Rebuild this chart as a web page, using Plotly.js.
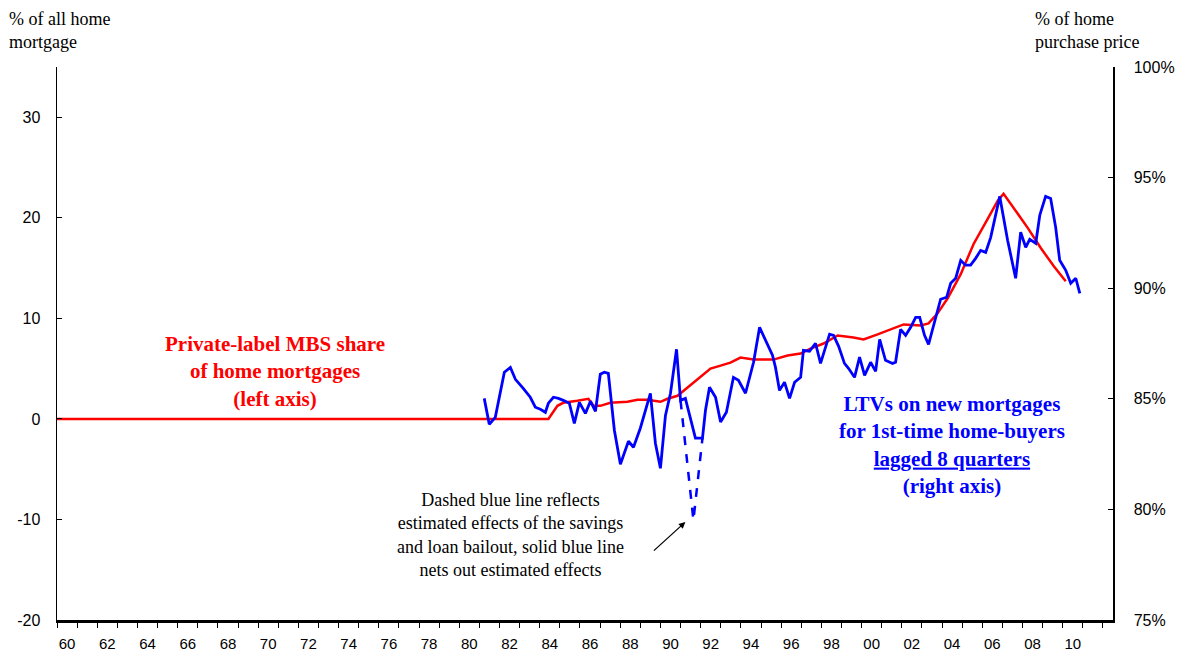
<!DOCTYPE html>
<html>
<head>
<meta charset="utf-8">
<script src="https://cdn.plot.ly/plotly-3.0.1.min.js"></script>
<style>html,body{margin:0;padding:0;background:#fff;}#chart{width:1179px;height:653px;}</style>
</head>
<body>
<div id="chart"></div>
<script>
// Private-label MBS share of home mortgages (% of all home mortgages, left axis)
const redYears = [1960, 1984.43, 1984.88, 1985.17, 1985.87, 1986.42, 1986.67, 1987.01, 1987.51, 1988.36, 1988.86, 1989.35, 1990.00, 1990.35, 1990.85, 1991.34, 1991.99, 1992.49, 1992.99, 1993.48, 1993.98, 1994.63, 1995.62, 1996.32, 1996.97, 1997.46, 1998.11, 1998.81, 1999.60, 2000.10, 2000.80, 2001.59, 2002.09, 2002.94, 2003.33, 2003.78, 2004.28, 2004.93, 2005.57, 2006.27, 2006.77, 2007.06, 2007.56, 2008.26, 2008.91, 2009.55, 2010.15];
const redShare = [0, 0, 1.3, 1.6, 1.8, 2.0, 1.3, 1.3, 1.6, 1.7, 1.9, 1.9, 1.7, 2.0, 2.3, 3.1, 4.1, 5.0, 5.3, 5.6, 6.1, 5.9, 5.9, 6.3, 6.5, 7.0, 7.5, 8.3, 8.1, 7.9, 8.4, 9.0, 9.4, 9.3, 9.5, 10.5, 12.0, 14.4, 17.4, 19.9, 21.7, 22.4, 21.0, 19.0, 17.0, 15.2, 13.7];

// LTVs on new mortgages for 1st-time home-buyers, lagged 8 quarters (% of purchase price, right axis)
const blueYears = [1981.24, 1981.49, 1981.79, 1982.24, 1982.54, 1982.79, 1983.18, 1983.53, 1983.78, 1984.03, 1984.28, 1984.43, 1984.68, 1984.93, 1985.17, 1985.47, 1985.72, 1985.97, 1986.27, 1986.52, 1986.77, 1987.01, 1987.21, 1987.41, 1987.71, 1988.01, 1988.41, 1988.66, 1989.00, 1989.50, 1989.75, 1990.00, 1990.25, 1990.50, 1990.80, 1991.00, 1991.24, 1991.49, 1991.74, 1992.09, 1992.24, 1992.44, 1992.74, 1992.99, 1993.28, 1993.63, 1993.88, 1994.23, 1994.63, 1994.93, 1995.22, 1995.57, 1995.72, 1995.92, 1996.17, 1996.42, 1996.67, 1996.97, 1997.11, 1997.41, 1997.71, 1997.96, 1998.41, 1998.61, 1998.86, 1999.15, 1999.35, 1999.65, 1999.90, 2000.15, 2000.45, 2000.70, 2000.90, 2001.19, 2001.54, 2001.69, 2001.94, 2002.19, 2002.44, 2002.69, 2002.89, 2003.13, 2003.33, 2003.58, 2003.93, 2004.23, 2004.43, 2004.68, 2004.93, 2005.17, 2005.42, 2005.67, 2005.92, 2006.17, 2006.42, 2006.87, 2007.26, 2007.66, 2007.91, 2008.16, 2008.36, 2008.66, 2008.86, 2009.15, 2009.40, 2009.65, 2009.85, 2010.15, 2010.40, 2010.65, 2010.85];
const blueLTV = [85.02, 83.85, 84.16, 86.20, 86.42, 85.88, 85.47, 85.07, 84.62, 84.53, 84.39, 84.80, 85.07, 85.02, 84.93, 84.80, 83.89, 84.84, 84.34, 84.89, 84.43, 86.11, 86.20, 86.15, 83.58, 82.04, 83.08, 82.81, 83.67, 85.25, 82.99, 81.86, 84.25, 85.25, 87.24, 84.93, 85.02, 84.16, 83.22, 83.22, 84.48, 85.52, 85.07, 83.95, 84.39, 85.97, 85.84, 85.25, 86.65, 88.23, 87.64, 86.97, 86.42, 85.38, 85.75, 85.02, 85.75, 85.97, 87.19, 87.15, 87.51, 86.60, 87.92, 87.87, 87.37, 86.60, 86.38, 85.97, 86.88, 86.06, 86.65, 86.24, 87.69, 86.74, 86.60, 86.65, 88.14, 87.87, 88.23, 88.68, 88.68, 87.87, 87.46, 88.32, 89.50, 89.59, 90.22, 90.45, 91.26, 91.04, 91.04, 91.35, 91.71, 91.62, 92.30, 94.15, 92.17, 90.45, 92.53, 91.85, 92.21, 92.03, 93.30, 94.15, 94.06, 92.75, 91.26, 90.81, 90.22, 90.45, 89.77];

// Dashed segment: including estimated effects of the savings and loan bailout
const dashYears = [1991.00, 1991.64, 1992.09];
const dashLTV = [84.93, 79.51, 83.22];

// Axis tick labels
const yearLabelVals = [];
const yearLabelText = [];
for (let y = 1960; y <= 2010; y += 2) { yearLabelVals.push(y + 0.5); yearLabelText.push(String(y % 100).padStart(2, '0')); }
const leftTicks = [-20, -10, 0, 10, 20, 30];
const leftTickText = ['-20', '-10', '0', '10', '20', '30'];
const rightTicks = [75, 80, 85, 90, 95, 100];
const rightTickText = ['75%', '80%', '85%', '90%', '95%', '100%'];

const serif = 'Liberation Serif, Times New Roman, serif';
const sans = 'Liberation Sans, Arial, sans-serif';

const traces = [
  {x: redYears, y: redShare, type: 'scatter', mode: 'lines', xaxis: 'x', yaxis: 'y',
   line: {color: 'rgb(255,0,0)', width: 2.5}, hoverinfo: 'skip'},
  {x: dashYears, y: dashLTV, type: 'scatter', mode: 'lines', xaxis: 'x', yaxis: 'y2',
   line: {color: 'rgb(0,0,255)', width: 2.5, dash: 'dash'}, hoverinfo: 'skip'},
  {x: blueYears, y: blueLTV, type: 'scatter', mode: 'lines', xaxis: 'x', yaxis: 'y2',
   line: {color: 'rgb(0,0,255)', width: 2.8}, hoverinfo: 'skip'}
];

const layout = {
  width: 1179, height: 653,
  margin: {l: 57, r: 66, t: 67, b: 33},
  paper_bgcolor: '#fff', plot_bgcolor: '#fff',
  showlegend: false,
  xaxis: {
    range: [1960, 2012.5], showgrid: false, zeroline: false,
    tickmode: 'array', tickvals: yearLabelVals, ticktext: yearLabelText,
    ticks: '', ticklabelstandoff: 8,
    tickfont: {family: sans, size: 15, color: '#000'},
    minor: {tickmode: 'linear', tick0: 1960, dtick: 1, ticks: 'outside', ticklen: 5, tickwidth: 1, tickcolor: '#000', showgrid: false},
    showline: true, linecolor: '#000', linewidth: 2.5, fixedrange: true
  },
  yaxis: {
    range: [-20, 35], tickmode: 'array', tickvals: leftTicks, ticktext: leftTickText, showgrid: false, zeroline: false,
    ticks: 'inside', ticklen: 5, tickcolor: '#000', showline: true, linecolor: '#000', linewidth: 1.5,
    tickfont: {family: sans, size: 16, color: '#000'}, ticklabelstandoff: 12, fixedrange: true
  },
  yaxis2: {
    overlaying: 'y', side: 'right', range: [75, 100], tickmode: 'array', tickvals: rightTicks, ticktext: rightTickText,
    showgrid: false, zeroline: false, ticks: 'inside', ticklen: 5, tickcolor: '#000',
    showline: true, linecolor: '#000', linewidth: 1.5,
    tickfont: {family: sans, size: 16, color: '#000'}, ticklabelstandoff: 16, fixedrange: true
  },
  annotations: [
    {xref: 'paper', yref: 'paper', x: -50/1056, y: 1 + 60/553, xanchor: 'left', yanchor: 'top', align: 'left',
     text: '% of all home<br>mortgage', showarrow: false, font: {family: serif, size: 18, color: '#000'}},
    {xref: 'paper', yref: 'paper', x: 1 - 80/1056, y: 1 + 60/553, xanchor: 'left', yanchor: 'top', align: 'left',
     text: '% of home<br>purchase price', showarrow: false, font: {family: serif, size: 18, color: '#000'}},
    {xref: 'x', yref: 'y', x: 1970.85, y: 4.7, xanchor: 'center', yanchor: 'middle', align: 'center',
     text: '<b>Private-label MBS share<br>of home mortgages<br>(left axis)</b>', showarrow: false,
     font: {family: serif, size: 21, color: 'rgb(255,0,0)'}},
    {xref: 'x', yref: 'y', x: 2004.48, y: -2.6, xanchor: 'center', yanchor: 'middle', align: 'center',
     text: '<b>LTVs on new mortgages<br>for 1st-time home-buyers<br><span style="text-decoration:underline">lagged 8 quarters</span><br>(right axis)</b>',
     showarrow: false, font: {family: serif, size: 21, color: 'rgb(0,0,255)'}},
    {xref: 'x', yref: 'y', x: 1982.54, y: -11.5, xanchor: 'center', yanchor: 'middle', align: 'center',
     text: 'Dashed blue line reflects<br>estimated effects of the savings<br>and loan bailout, solid blue line<br>nets out estimated effects',
     showarrow: false, font: {family: serif, size: 18, color: '#000'}},
    {xref: 'x', yref: 'y', x: 1991.24, y: -10.25, ax: -33, ay: 30, text: '', showarrow: true,
     arrowhead: 2, arrowsize: 1, arrowwidth: 1.3, arrowcolor: '#000'}
  ]
};

Plotly.newPlot('chart', traces, layout, {staticPlot: true, displayModeBar: false});
</script>
</body>
</html>
